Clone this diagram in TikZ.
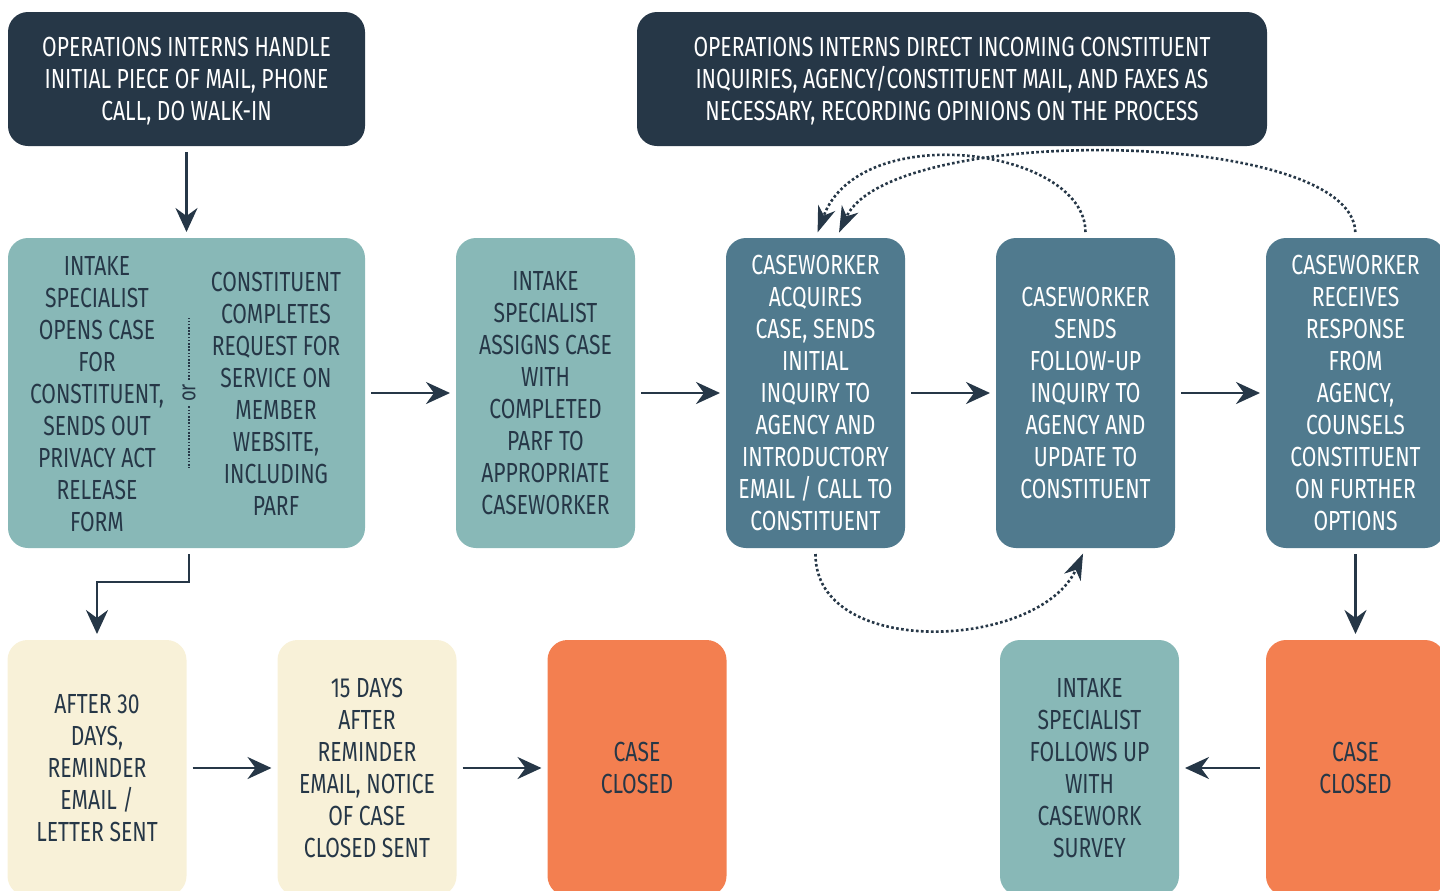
\documentclass[tikz,border=0pt]{standalone}
\usepackage{fontspec}
\setmainfont{Fira Sans}[FakeStretch=0.765]
\usetikzlibrary{positioning, arrows.meta}

\definecolor{navy}{RGB}{38,55,71}
\definecolor{tealgrey}{RGB}{136,184,183}
\definecolor{caseblue}{RGB}{80,122,142}
\definecolor{casecream}{RGB}{248,241,216}
\definecolor{caseorange}{RGB}{243,127,80}

\tikzstyle{rec} = [rectangle, rounded corners=10pt, inner sep=0pt, outer sep=0pt, align=center, font=\fontsize{13.8pt}{16pt}\selectfont]
\tikzstyle{rec_text} = [align=center, text=navy, font=\fontsize{13.8pt}{16pt}\selectfont]
\tikzstyle{rec_dark} = [rec, fill=navy, text=white, minimum height=67pt, text depth=0pt]
\tikzstyle{rec_teal} = [rec, fill=tealgrey, text=navy, minimum width=89.5pt, minimum height=155pt]
\tikzstyle{rec_blue} = [rec, fill=caseblue, text=white, minimum width=89.5pt, minimum height=155pt]
\tikzstyle{rec_cream} = [rec, fill=casecream, text=navy, minimum width=89.5pt, minimum height=128pt]
\tikzstyle{rec_orange} = [rec_cream, fill=caseorange]
\tikzstyle{arrow} = [line width=1.4pt, ->, >={Stealth[length=12pt, width=11pt, inset=4pt]}, color=navy, shorten <=3pt, shorten >=3pt]
\tikzstyle{arrow_dotted} = [arrow, line width=1.3pt, dash pattern=on 1.3pt off 1.2pt, >={Stealth[length=13pt, width=9pt, inset=4pt]}]
\tikzstyle{or_line} = [navy, line width=0.7pt, dash pattern=on 0.8pt off 0.8pt]

\begin{document}
\begin{tikzpicture}[x=0.5pt, y=-0.5pt, node distance=45.5pt]
		\useasboundingbox (0,0) rectangle (1440,890);
		% middle row
		\node (intake) [rec_teal, minimum width=178.5pt] at (186.5,393) {};
		\node (intake_left) [rec_text] at (97,394) {INTAKE\\SPECIALIST\\OPENS CASE\\FOR\\CONSTITUENT,\\SENDS OUT\\PRIVACY ACT\\RELEASE\\FORM};
		\node (intake_right) [rec_text] at (276,394) {CONSTITUENT\\COMPLETES\\REQUEST FOR\\SERVICE ON\\MEMBER\\WEBSITE,\\INCLUDING\\PARF};
		\node (or_label) [rotate=90, text=navy, inner sep=2pt, font=\fontsize{12pt}{12pt}\selectfont] at (189,393) {or};
		\draw [or_line] (or_label.east) -- ++(0,-62);
		\draw [or_line] (or_label.west) -- ++(0,62);
		\node (assign) [rec_teal, right=of intake] {INTAKE\\SPECIALIST\\ASSIGNS CASE\\WITH\\COMPLETED\\PARF TO\\APPROPRIATE\\CASEWORKER};
		\node (acquire) [rec_blue, right=of assign] {CASEWORKER\\ACQUIRES\\CASE, SENDS\\INITIAL\\INQUIRY TO\\AGENCY AND\\INTRODUCTORY\\EMAIL / CALL TO\\CONSTITUENT};
		\node (follow_up) [rec_blue, right=of acquire] {CASEWORKER\\SENDS\\FOLLOW-UP\\INQUIRY TO\\AGENCY AND\\UPDATE TO\\CONSTITUENT};
		\node (response) [rec_blue, right=of follow_up] {CASEWORKER\\RECEIVES\\RESPONSE\\FROM\\AGENCY,\\COUNSELS\\CONSTITUENT\\ON FURTHER\\OPTIONS};
		% top row
		\node (handle) [rec_dark, minimum width=178.5pt, above=46pt of intake] {OPERATIONS INTERNS HANDLE\\INITIAL PIECE OF MAIL, PHONE\\CALL, DO WALK-IN};
		\node (direct) [rec_dark, minimum width=315pt] at (952,79) {OPERATIONS INTERNS DIRECT INCOMING CONSTITUENT\\INQUIRIES, AGENCY/CONSTITUENT MAIL, AND FAXES AS\\NECESSARY, RECORDING OPINIONS ON THE PROCESS};
		% bottom row
		\node (reminder) [rec_cream] at (97,768) {AFTER 30\\DAYS,\\REMINDER\\EMAIL /\\LETTER SENT};
		\node (notice) [rec_cream, right=of reminder] {15 DAYS\\AFTER\\REMINDER\\EMAIL, NOTICE\\OF CASE\\CLOSED SENT};
		\node (closed1) [rec_orange, right=of notice] {CASE\\CLOSED};
		\node (closed2) [rec_orange, below=46pt of response] {CASE\\CLOSED};
		\node (survey) [rec_teal, minimum height=128pt, left=43.5pt of closed2] {INTAKE\\SPECIALIST\\FOLLOWS UP\\WITH\\CASEWORK\\SURVEY};

		\draw [arrow] (handle) -- (intake);
		\draw [arrow] (intake) -- (assign);
		\draw [arrow] (assign) -- (acquire);
		\draw [arrow] (acquire) -- (follow_up);
		\draw [arrow] (follow_up) -- (response);
		\draw [arrow] ([xshift=1.25pt]intake.south) -- ++(0,34) -| (reminder.north);
		\draw [arrow] (reminder) -- (notice);
		\draw [arrow] (notice) -- (closed1);
		\draw [arrow] (response) -- (closed2);
		\draw [arrow] (closed2) -- (survey);
		% loops back to the caseworker
		\draw [arrow_dotted] (follow_up.north) .. controls (1085,148) and (860,118) .. (acquire.north);
		\draw [arrow_dotted] (response.north) .. controls (1352,128) and (890,123) .. ([xshift=10.5pt]acquire.north);
		\draw [arrow_dotted] (acquire.south) .. controls (815,660) and (1040,650) .. (follow_up.south);
\end{tikzpicture}
\end{document}
